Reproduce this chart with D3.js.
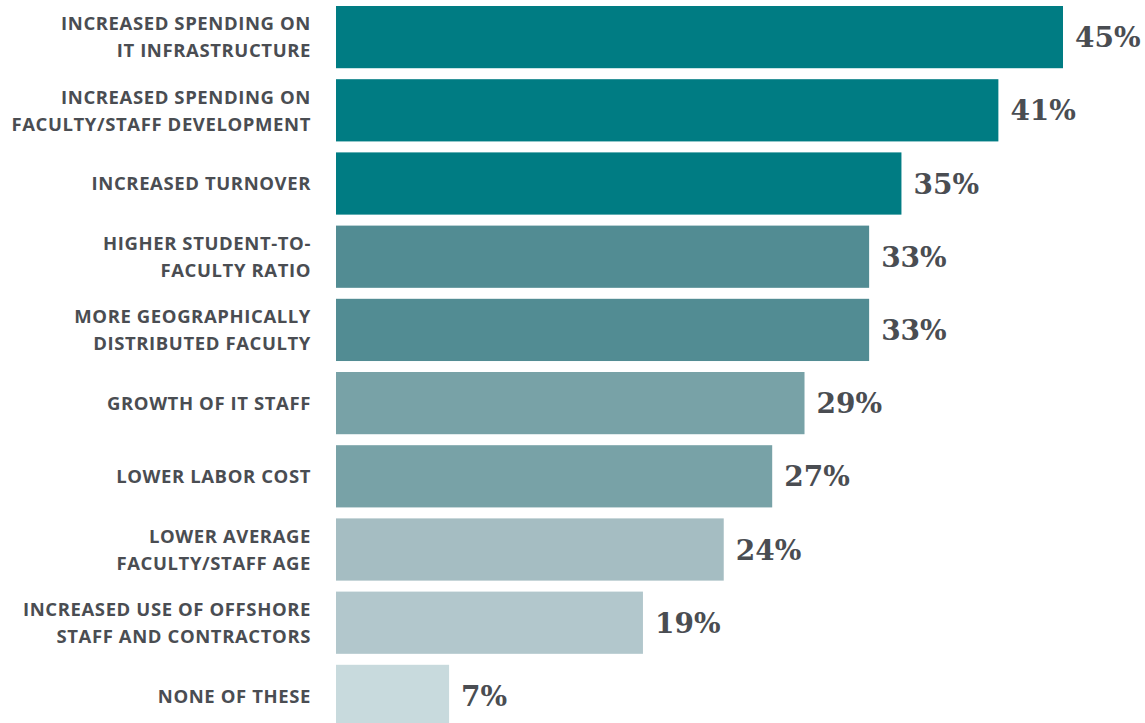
<!DOCTYPE html>
<html>
<head>
<meta charset="utf-8">
<script src="https://cdn.jsdelivr.net/npm/d3@7"></script>
<style>
  html, body { margin: 0; padding: 0; background: #ffffff; }
  svg { display: block; }
</style>
</head>
<body>
<svg id="chart" width="1145" height="723"></svg>
<script>
// Impact categories (two-line labels split on "|")
const categories = [
  "INCREASED SPENDING ON|IT INFRASTRUCTURE",
  "INCREASED SPENDING ON|FACULTY/STAFF DEVELOPMENT",
  "INCREASED TURNOVER",
  "HIGHER STUDENT-TO-|FACULTY RATIO",
  "MORE GEOGRAPHICALLY|DISTRIBUTED FACULTY",
  "GROWTH OF IT STAFF",
  "LOWER LABOR COST",
  "LOWER AVERAGE|FACULTY/STAFF AGE",
  "INCREASED USE OF OFFSHORE|STAFF AND CONTRACTORS",
  "NONE OF THESE"
];
const values = [45, 41, 35, 33, 33, 29, 27, 24, 19, 7];
const barColors = ["#007c83", "#007c83", "#007c83", "#528c93", "#528c93",
                   "#78a2a7", "#78a2a7", "#a5bdc2", "#b2c7cc", "#c8dadd"];

const svg = d3.select("#chart");
const textColor = "#4a4d52";

const x = d3.scaleLinear().domain([0, 45]).range([336, 1063]);
const step = 73.2;
const y = d3.scaleBand()
  .domain(categories)
  .range([6, 6 + step * (categories.length - 0.15)])
  .paddingInner(0.15)
  .paddingOuter(0);

// Bars
svg.append("g").selectAll("rect")
  .data(categories)
  .join("rect")
  .attr("x", x(0))
  .attr("y", d => y(d))
  .attr("width", (d, i) => x(values[i]) - x(0))
  .attr("height", y.bandwidth())
  .attr("fill", (d, i) => barColors[i]);

// Category labels (right aligned left of the bars)
const labelSize = 18.5;
const labels = svg.append("g").selectAll("text")
  .data(categories)
  .join("text")
  .attr("x", 311)
  .attr("y", d => y(d) + y.bandwidth() / 2)
  .attr("text-anchor", "end")
  .attr("font-family", "'Open Sans', Lato, sans-serif")
  .attr("font-weight", 700)
  .attr("font-size", labelSize)
  .attr("letter-spacing", 0.6)
  .attr("fill", textColor);

labels.each(function(d) {
  const lines = d.split("|");
  const lh = 27;
  const t = d3.select(this);
  lines.forEach((ln, k) => {
    t.append("tspan")
      .attr("x", 311)
      .attr("dy", k === 0 ? (-(lines.length - 1) * lh / 2 + 6.7) : lh)
      .text(ln);
  });
});

// Value labels
svg.append("g").selectAll("text")
  .data(categories)
  .join("text")
  .attr("x", (d, i) => x(values[i]) + 12)
  .attr("y", d => y(d) + y.bandwidth() / 2 + 10)
  .attr("font-family", "'DejaVu Serif', serif")
  .attr("font-weight", 700)
  .attr("font-size", 28)
  .attr("fill", textColor)
  .text((d, i) => values[i] + "%");
</script>
</body>
</html>
